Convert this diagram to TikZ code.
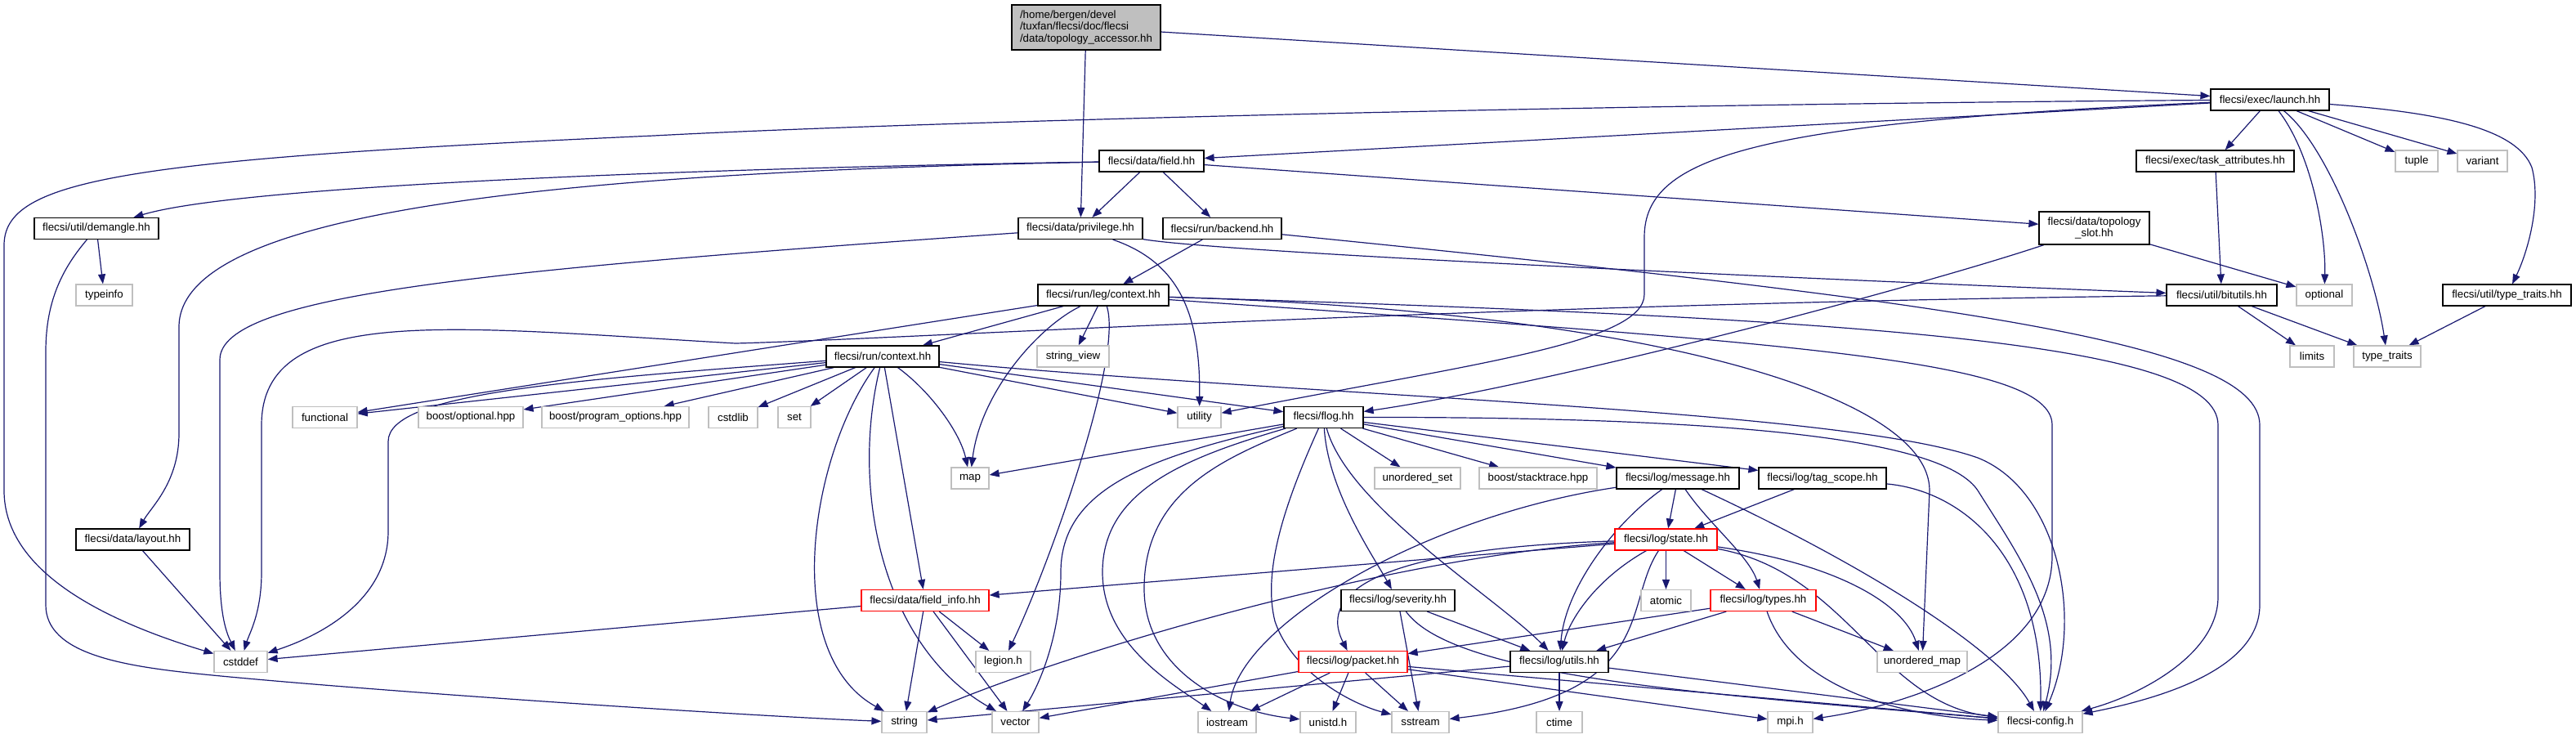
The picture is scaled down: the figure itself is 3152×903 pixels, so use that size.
\documentclass[tikz,border=0pt]{standalone}
\usepackage{fontspec}
\setmainfont{Liberation Sans}
\usetikzlibrary{arrows.meta}
\definecolor{edgeblue}{HTML}{191970}
\definecolor{boxgray}{HTML}{BFBFBF}
\definecolor{rootfill}{HTML}{BFBFBF}
\definecolor{boxred}{HTML}{FF0000}
\newcommand\dxfont{\fontsize{13.3}{14.7}\selectfont}
\pgfdeclarelayer{bg}
\pgfsetlayers{bg,main}
\tikzset{
  nb/.style={draw=black, line width=1.2pt, fill=white, inner sep=0pt, minimum height=26pt, font=\dxfont},
  ng/.style={nb, draw=boxgray},
  nr/.style={nb, draw=boxred},
  dep/.style={draw=edgeblue, line width=1.2pt, -{Triangle[length=12pt,width=9pt]}},
}
\begin{document}
\begin{tikzpicture}[x=1pt,y=-1pt]
\useasboundingbox (0,0) rectangle (3152,903);
% nodes
\node[nb, fill=rootfill, minimum width=182pt, minimum height=55pt, align=left] (root) at (1329,33.5) {/home/bergen/devel\\/tuxfan/flecsi/doc/flecsi\\/data/topology\_accessor.hh};
\node[nb, minimum width=145pt] (launch) at (2777.5,122) {flecsi/exec/launch.hh};
\node[nb, minimum width=128pt] (field) at (1409,197) {flecsi/data/field.hh};
\node[nb, minimum width=193pt] (task) at (2710.5,197) {flecsi/exec/task\_attributes.hh};
\node[ng, minimum width=52pt] (tuple) at (2957,197) {tuple};
\node[ng, minimum width=61pt] (variant) at (3037.5,197) {variant};
\node[nb, minimum width=152pt] (priv) at (1322,279.5) {flecsi/data/privilege.hh};
\node[nb, minimum width=145pt] (backend) at (1495.5,279.5) {flecsi/run/backend.hh};
\node[nb, minimum width=152pt] (demangle) at (118,279.5) {flecsi/util/demangle.hh};
\node[nb, minimum width=135pt, minimum height=40pt, align=center] (slot) at (2562.5,279) {flecsi/data/topology\\\_slot.hh};
\node[ng, minimum width=69pt] (typeinfo) at (127.5,361) {typeinfo};
\node[nb, minimum width=160pt] (leg) at (1350,361) {flecsi/run/leg/context.hh};
\node[nb, minimum width=135pt] (bitutils) at (2718.5,361) {flecsi/util/bitutils.hh};
\node[ng, minimum width=68pt] (optional) at (2844,361) {optional};
\node[nb, minimum width=157pt] (ttr) at (3067.5,361) {flecsi/util/type\_traits.hh};
\node[nb, minimum width=138pt] (run) at (1080,436) {flecsi/run/context.hh};
\node[ng, minimum width=88pt] (sview) at (1313,436) {string\_view};
\node[ng, minimum width=54pt] (limits) at (2829,436) {limits};
\node[ng, minimum width=82pt] (tt) at (2921,436) {type\_traits};
\node[ng, minimum width=79pt] (functional) at (397.5,510.5) {functional};
\node[ng, minimum width=128pt] (boostopt) at (576,510.5) {boost/optional.hpp};
\node[ng, minimum width=180pt] (progopt) at (753,510.5) {boost/program\_options.hpp};
\node[ng, minimum width=60pt] (cstdlib) at (897,510.5) {cstdlib};
\node[ng, minimum width=40pt] (set) at (972,510.5) {set};
\node[ng, minimum width=53pt] (utility) at (1467.5,510.5) {utility};
\node[nb, minimum width=97pt] (flog) at (1619.5,510.5) {flecsi/flog.hh};
\node[ng, minimum width=46pt] (map) at (1187,585) {map};
\node[ng, minimum width=105pt] (uset) at (1734.5,585) {unordered\_set};
\node[ng, minimum width=144pt] (stack) at (1882,585) {boost/stacktrace.hpp};
\node[nb, minimum width=150pt] (message) at (2053,585) {flecsi/log/message.hh};
\node[nb, minimum width=156pt] (tag) at (2230,585) {flecsi/log/tag\_scope.hh};
\node[nb, minimum width=139pt] (layout) at (162.5,660) {flecsi/data/layout.hh};
\node[nr, minimum width=125pt] (state) at (2038.5,660) {flecsi/log/state.hh};
\node[nr, minimum width=156pt] (finfo) at (1132,734.5) {flecsi/data/field\_info.hh};
\node[nb, minimum width=139pt] (severity) at (1710.5,734.5) {flecsi/log/severity.hh};
\node[ng, minimum width=61pt] (atomic) at (2038.5,734.5) {atomic};
\node[nr, minimum width=129pt] (types) at (2157.5,734.5) {flecsi/log/types.hh};
\node[ng, minimum width=65pt] (cstddef) at (294.5,809.5) {cstddef};
\node[ng, minimum width=67pt] (legion) at (1227.5,809.5) {legion.h};
\node[nr, minimum width=133pt] (packet) at (1655.5,809.5) {flecsi/log/packet.hh};
\node[nb, minimum width=120pt] (utils) at (1908,809.5) {flecsi/log/utils.hh};
\node[ng, minimum width=110pt] (umap) at (2352,809.5) {unordered\_map};
\node[ng, minimum width=55pt] (string) at (1106.5,883.5) {string};
\node[ng, minimum width=57pt] (vector) at (1242.5,883.5) {vector};
\node[ng, minimum width=71pt] (iostream) at (1501.5,883.5) {iostream};
\node[ng, minimum width=68pt] (unistd) at (1625,883.5) {unistd.h};
\node[ng, minimum width=70pt] (sstream) at (1738,883.5) {sstream};
\node[ng, minimum width=56pt] (ctime) at (1908,883.5) {ctime};
\node[ng, minimum width=55pt] (mpi) at (2190.5,883.5) {mpi.h};
\node[ng, minimum width=103pt] (config) at (2496.5,883.5) {flecsi-config.h};
% edges
\begin{pgfonlayer}{bg}
\draw[dep] (root) -- (priv);
\draw[dep] (root) -- (launch);
\draw[dep] (launch) -- (field);
\draw[dep] (launch) -- (task);
\draw[dep] (launch) -- (tuple);
\draw[dep] (launch) -- (variant);
\draw[dep] (launch) .. controls (2830,190) and (2846,290) .. (optional);
\draw[dep] (launch) .. controls (2850,180) and (2905,330) .. (tt);
\draw[dep] (launch) .. controls (2990,138) and (3080,158) .. (3098,205) .. controls (3110,250) and (3092,310) .. (ttr);
\draw[dep] (launch) .. controls (1900,128) and (1100,150) .. (800,166) .. controls (150,195) and (5,220) .. (5,300) -- (5,600) .. controls (5,700) and (130,760) .. (cstddef);
\draw[dep] (launch) .. controls (2150,150) and (2012,190) .. (2012,290) -- (2012,360) .. controls (2012,420) and (1800,445) .. (utility);
\draw[dep] (field) -- (priv);
\draw[dep] (field) -- (backend);
\draw[dep] (field) .. controls (900,205) and (300,225) .. (demangle);
\draw[dep] (field) .. controls (600,212) and (219,270) .. (219,400) -- (219,530) .. controls (219,590) and (185,620) .. (layout);
\draw[dep] (field) -- (slot);
\draw[dep] (priv) .. controls (1500,310) and (2300,345) .. (bitutils);
\draw[dep] (priv) .. controls (600,330) and (269,360) .. (269,440) -- (269,700) .. controls (269,760) and (280,780) .. (cstddef);
\draw[dep] (priv) .. controls (1440,320) and (1469,380) .. (utility);
\draw[dep] (backend) -- (leg);
\draw[dep] (backend) .. controls (2400,370) and (2765,420) .. (2765,520) -- (2765,740) .. controls (2765,820) and (2640,855) .. (config);
\draw[dep] (task) -- (bitutils);
\draw[dep] (slot) .. controls (2350,350) and (1900,470) .. (flog);
\draw[dep] (slot) -- (optional);
\draw[dep] (ttr) -- (tt);
\draw[dep] (bitutils) -- (limits);
\draw[dep] (bitutils) -- (tt);
\draw[dep] (bitutils) .. controls (1800,372) and (1100,415) .. (900,420) .. controls (550,400) and (320,370) .. (320,520) -- (320,700) .. controls (320,750) and (305,775) .. (cstddef);
\draw[dep] (demangle) -- (typeinfo);
\draw[dep] (demangle) .. controls (75,330) and (56,370) .. (56,430) -- (56,740) .. controls (56,800) and (150,815) .. (250,825) .. controls (450,845) and (900,875) .. (string);
\draw[dep] (layout) -- (cstddef);
\draw[dep] (leg) -- (run);
\draw[dep] (leg) -- (sview);
\draw[dep] (leg) .. controls (1270,400) and (1200,480) .. (map);
\draw[dep] (leg) .. controls (1375,440) and (1280,700) .. (legion);
\draw[dep] (leg) -- (functional);
\draw[dep] (leg) .. controls (2300,390) and (2714,420) .. (2714,520) -- (2714,730) .. controls (2714,800) and (2620,850) .. (config);
\draw[dep] (leg) .. controls (2200,420) and (2511,440) .. (2511,520) -- (2511,680) .. controls (2511,800) and (2350,860) .. (mpi);
\draw[dep] (leg) .. controls (2000,380) and (2361,480) .. (2361,600) -- (umap);
\draw[dep] (run) -- (functional);
\draw[dep] (run) .. controls (700,465) and (475,480) .. (475,540) -- (475,650) .. controls (475,730) and (400,775) .. (cstddef);
\draw[dep] (run) -- (boostopt);
\draw[dep] (run) -- (progopt);
\draw[dep] (run) -- (cstdlib);
\draw[dep] (run) -- (set);
\draw[dep] (run) .. controls (990,560) and (955,800) .. (string);
\draw[dep] (run) .. controls (1040,600) and (1080,790) .. (vector);
\draw[dep] (run) -- (finfo);
\draw[dep] (run) .. controls (1140,480) and (1175,530) .. (map);
\draw[dep] (run) -- (utility);
\draw[dep] (run) -- (flog);
\draw[dep] (run) .. controls (1600,485) and (2250,500) .. (2420,560) .. controls (2520,600) and (2550,760) .. (config);
\draw[dep] (flog) -- (map);
\draw[dep] (flog) -- (uset);
\draw[dep] (flog) -- (stack);
\draw[dep] (flog) -- (message);
\draw[dep] (flog) -- (tag);
\draw[dep] (flog) .. controls (1625,600) and (1680,680) .. (severity);
\draw[dep] (flog) .. controls (1650,620) and (1830,730) .. (utils);
\draw[dep] (flog) .. controls (1570,620) and (1545,700) .. (1560,760) .. controls (1580,820) and (1650,860) .. (sstream);
\draw[dep] (flog) .. controls (1400,560) and (1298,600) .. (1298,700) .. controls (1298,780) and (1270,840) .. (vector);
\draw[dep] (flog) .. controls (1450,560) and (1349,600) .. (1349,700) .. controls (1349,790) and (1440,840) .. (iostream);
\draw[dep] (flog) .. controls (1500,560) and (1400,600) .. (1400,720) .. controls (1400,820) and (1500,870) .. (unistd);
\draw[dep] (flog) .. controls (2150,510) and (2380,540) .. (2420,600) .. controls (2470,680) and (2530,760) .. (config);
\draw[dep] (message) -- (state);
\draw[dep] (message) .. controls (2090,640) and (2140,680) .. (types);
\draw[dep] (message) .. controls (1975,640) and (1915,720) .. (utils);
\draw[dep] (message) .. controls (2300,700) and (2450,800) .. (config);
\draw[dep] (message) .. controls (1750,630) and (1520,760) .. (iostream);
\draw[dep] (tag) -- (state);
\draw[dep] (tag) .. controls (2400,600) and (2500,680) .. (config);
\draw[dep] (state) -- (atomic);
\draw[dep] (state) -- (types);
\draw[dep] (state) .. controls (1950,710) and (1920,760) .. (utils);
\draw[dep] (state) .. controls (1985,740) and (2030,850) .. (sstream);
\draw[dep] (state) .. controls (1700,670) and (1610,720) .. (packet);
\draw[dep] (state) -- (finfo);
\draw[dep] (state) .. controls (1700,680) and (1300,800) .. (string);
\draw[dep] (state) .. controls (2250,690) and (2330,740) .. (umap);
\draw[dep] (state) .. controls (2260,700) and (2300,860) .. (config);
\draw[dep] (types) -- (packet);
\draw[dep] (types) -- (utils);
\draw[dep] (types) -- (umap);
\draw[dep] (types) .. controls (2190,830) and (2300,875) .. (config);
\draw[dep] (severity) -- (utils);
\draw[dep] (severity) -- (sstream);
\draw[dep] (severity) .. controls (1780,830) and (2100,850) .. (config);
\draw[dep] (packet) -- (unistd);
\draw[dep] (packet) -- (sstream);
\draw[dep] (packet) -- (vector);
\draw[dep] (packet) -- (iostream);
\draw[dep] (packet) -- (config);
\draw[dep] (packet) -- (mpi);
\draw[dep] (utils) -- (ctime);
\draw[dep] (utils) -- (config);
\draw[dep] (utils) -- (string);
\draw[dep] (finfo) -- (cstddef);
\draw[dep] (finfo) -- (legion);
\draw[dep] (finfo) -- (string);
\draw[dep] (finfo) -- (vector);
\end{pgfonlayer}
\end{tikzpicture}
\end{document}
